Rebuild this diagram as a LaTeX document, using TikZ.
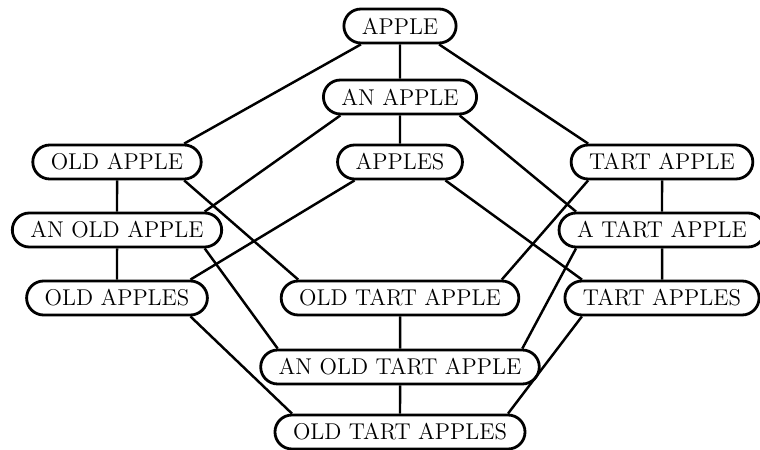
\documentclass[tikz,border=0pt]{standalone}
\usepackage{tikz}
\usetikzlibrary{shapes.misc}

\begin{document}
\begin{tikzpicture}[
    phrase/.style={draw, rounded rectangle, line width=1.6pt, minimum height=0.68cm,
      inner xsep=9pt, inner ysep=1pt, font=\fontsize{13}{15}\selectfont},
    link/.style={line width=1.4pt}
  ]
        \useasboundingbox (0,0) rectangle (15.2,9.0);
        % top of the lattice
        \node[phrase] (apple) at (8.0,8.48) {APPLE};
        \node[phrase] (anApple) at (8.0,7.06) {AN APPLE};
        % third row
        \node[phrase] (oldApple) at (2.34,5.76) {OLD APPLE};
        \node[phrase] (apples) at (8.0,5.76) {APPLES};
        \node[phrase] (tartApple) at (13.24,5.76) {TART APPLE};
        \node[phrase] (anOldApple) at (2.34,4.40) {AN OLD APPLE};
        \node[phrase] (aTartApple) at (13.24,4.40) {A TART APPLE};
        \node[phrase] (oldApples) at (2.34,3.04) {OLD APPLES};
        \node[phrase] (oldTartApple) at (8.0,3.04) {OLD TART APPLE};
        \node[phrase] (tartApples) at (13.24,3.04) {TART APPLES};
        % bottom
        \node[phrase] (anOldTartApple) at (8.0,1.66) {AN OLD TART APPLE};
        \node[phrase] (oldTartApples) at (8.0,0.36) {OLD TART APPLES};

        \draw[link] (apple) -- (anApple);
        \draw[link] (apple.south west) -- (oldApple.north east);
        \draw[link] (apple.south east) -- (tartApple.north west);
        \draw[link] (anApple) -- (apples);
        \draw[link] (anApple.south west) -- (anOldApple.north east);
        \draw[link] (anApple.south east) -- (aTartApple.north west);
        \draw[link] (oldApple) -- (anOldApple);
        \draw[link] (oldApple.south east) -- (oldTartApple.north west);
        \draw[link] (apples.south west) -- (oldApples.north east);
        \draw[link] (apples.south east) -- (tartApples.north west);
        \draw[link] (tartApple) -- (aTartApple);
        \draw[link] (tartApple.south west) -- (oldTartApple.north east);
        \draw[link] (anOldApple) -- (oldApples);
        \draw[link] (anOldApple.south east) -- (anOldTartApple.north west);
        \draw[link] (aTartApple) -- (tartApples);
        \draw[link] (aTartApple.south west) -- (anOldTartApple.north east);
        \draw[link] (oldApples.south east) -- (oldTartApples.north west);
        \draw[link] (oldTartApple) -- (anOldTartApple);
        \draw[link] (tartApples.south west) -- (oldTartApples.north east);
        \draw[link] (anOldTartApple) -- (oldTartApples);
    \end{tikzpicture}
\end{document}
